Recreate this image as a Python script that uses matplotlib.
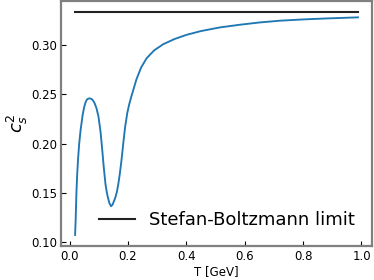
import matplotlib
matplotlib.use('Agg')
import matplotlib.pyplot as plt
import numpy as np

# speed of sound squared vs temperature
T = [0.019, 0.021, 0.0235, 0.026, 0.029, 0.033, 0.038, 0.045, 0.050, 0.055,
     0.060, 0.065, 0.070, 0.075, 0.080, 0.085, 0.092, 0.099, 0.106, 0.112,
     0.117, 0.123, 0.127, 0.1305, 0.136, 0.142, 0.147, 0.152, 0.157, 0.162,
     0.167, 0.172, 0.178, 0.184, 0.190, 0.1977, 0.2045, 0.212, 0.220, 0.229,
     0.245, 0.264, 0.290, 0.321, 0.360, 0.401, 0.450, 0.515, 0.583, 0.650,
     0.720, 0.800, 0.880, 0.950, 0.988]
cs2 = [0.1074, 0.1238, 0.150, 0.168, 0.184, 0.200, 0.2142, 0.2293, 0.237, 0.2420,
       0.2448, 0.2456, 0.2458, 0.2452, 0.2438, 0.2415, 0.236, 0.2275, 0.2122, 0.1935,
       0.1765, 0.159, 0.1515, 0.1465, 0.1400, 0.1365, 0.1380, 0.1415, 0.1455, 0.1510,
       0.1590, 0.1690, 0.1834, 0.2003, 0.2160, 0.2310, 0.2400, 0.2480, 0.2560, 0.2650,
       0.2770, 0.2865, 0.2945, 0.3007, 0.3060, 0.3102, 0.3140, 0.3177, 0.3204, 0.3227,
       0.3245, 0.3258, 0.3268, 0.3275, 0.3279]
sb_limit = 1.0 / 3.0

fig = plt.figure(figsize=(3.74, 2.8), dpi=100)
ax = fig.add_axes([0.163, 0.121, 0.832, 0.876])

ax.plot(T, cs2, color='#1f77b4', lw=1.35)
ax.plot([T[0], T[-1]], [sb_limit, sb_limit], color='#222222', lw=1.5,
        label='Stefan-Boltzmann limit')

ax.set_xlabel('T [GeV]', fontsize=8.5, labelpad=1)
ax.set_ylabel('$c_s^2$', fontsize=13, labelpad=0.5)
ax.set_xticks([0.0, 0.2, 0.4, 0.6, 0.8, 1.0])
ax.set_yticks([0.10, 0.15, 0.20, 0.25, 0.30])
ax.tick_params(direction='in', labelsize=8.5, length=3.5, width=0.8, pad=3)
for s in ax.spines.values():
    s.set_color('#808080')
    s.set_linewidth(1.6)

ax.legend(loc='lower right', frameon=False, fontsize=13,
          borderaxespad=0.55, handletextpad=0.8)

fig.savefig('out.png', dpi=100)
